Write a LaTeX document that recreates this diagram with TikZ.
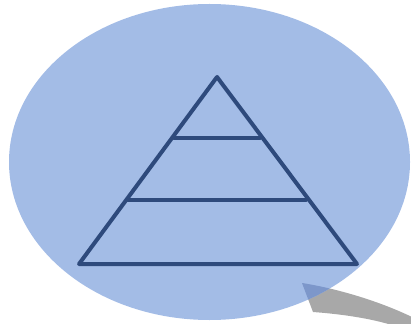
\documentclass[tikz,border=0pt]{standalone}
\usetikzlibrary{shapes.geometric}
\definecolor{ellfill}{HTML}{A3BCE6}
\definecolor{pyr}{HTML}{2E4A7C}
\definecolor{shad}{HTML}{A8A8A8}
\definecolor{shadover}{HTML}{7D97CA}
\tikzset{pyrline/.style={draw=pyr,line width=4pt,line cap=round,line join=round}}
\begin{document}
\begin{tikzpicture}[x=1pt,y=-1pt]
\useasboundingbox (0,0) rectangle (411,323);
\def\tailpath{(302,283) .. controls (340,289) and (385,303) .. (418,320) -- (418,330) -- (395,326) .. controls (370,318) and (340,314) .. (313,312) -- cycle}
\fill[shad] \tailpath;
\node[ellipse,draw=none,fill=ellfill,minimum width=401pt,minimum height=316pt,inner sep=0pt] (ell) at (209.5,162) {};
\begin{scope}
\clip (209.5,162) ellipse [x radius=200.5pt,y radius=158pt];
\fill[shadover] \tailpath;
\end{scope}
\coordinate (apex) at (217,77);
\coordinate (bl) at (79,264);
\coordinate (br) at (357,264);
\coordinate (l1a) at (174,138);
\coordinate (l1b) at (260,138);
\coordinate (l2a) at (128,200);
\coordinate (l2b) at (306,200);
\draw[pyrline] (apex) -- (bl) -- (br) -- cycle;
\draw[pyrline] (l1a) -- (l1b);
\draw[pyrline] (l2a) -- (l2b);
\end{tikzpicture}
\end{document}
